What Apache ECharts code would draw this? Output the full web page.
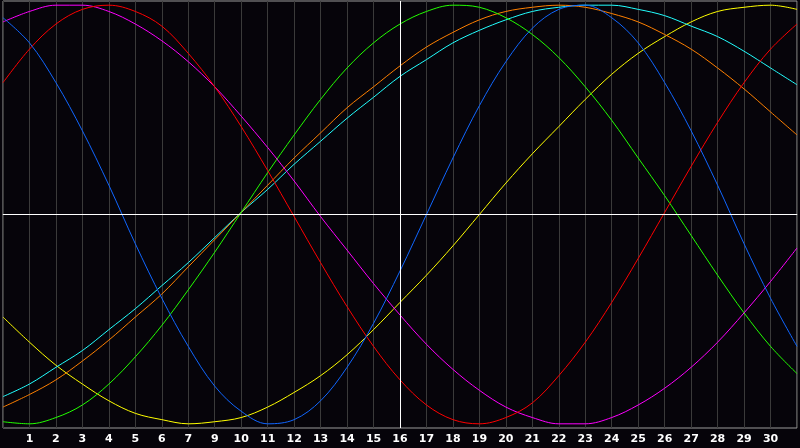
<!DOCTYPE html>
<html>
<head>
<meta charset="utf-8">
<script src="https://cdn.jsdelivr.net/npm/echarts@6/dist/echarts.min.js"></script>
<style>
html,body{margin:0;padding:0;background:#06040a;}
#chart{width:800px;height:448px;}
</style>
</head>
<body>
<div id="chart"></div>
<script>
// day labels under the vertical grid lines (index 0 and 30 are the frame edges)
const dayLabels = ['', '1','2','3','4','5','6','7','9','10','11','12','13','14','15','16','17','18','19','20','21','22','23','24','25','26','27','28','29','30', ''];

// curve values read at each grid line (-100 .. 100)
const redValues     = [63,79,91,98,100,97,90,77,61,42,21,-1,-23,-44,-63,-79,-91,-98,-100,-97,-90,-77,-61,-42,-21,1,23,44,63,79,91];
const magentaValues = [92,97,100,100,97,91,83,73,61,47,32,16,-1,-17,-33,-48,-62,-74,-84,-92,-97,-100,-100,-97,-91,-83,-73,-61,-47,-32,-16];
const blueValues    = [94,82,63,40,14,-14,-40,-63,-82,-94,-100,-98,-89,-73,-52,-27,0,27,52,73,89,98,100,94,82,63,40,14,-14,-40,-63];
const greenValues   = [-99,-100,-97,-91,-81,-68,-53,-36,-18,1,20,38,55,70,82,91,97,100,99,94,86,75,61,45,27,9,-10,-29,-47,-63,-76];
const orangeValues  = [-92,-86,-79,-70,-60,-49,-38,-25,-12,1,14,27,39,51,61,71,80,87,93,97,99,100,99,96,92,86,79,70,60,49,38];
const cyanValues    = [-87,-81,-73,-65,-55,-45,-34,-23,-11,1,12,24,35,46,56,66,74,82,88,93,97,99,100,100,98,95,90,85,78,70,62];
const yellowValues  = [-49,-61,-72,-81,-89,-95,-98,-100,-99,-97,-92,-85,-77,-67,-55,-42,-29,-15,0,15,29,42,55,67,77,85,92,97,99,100,98];

const todayIndex = 15;

const curves = [
  {name:'yellow',  data:yellowValues,  color:'#ffff00'},
  {name:'cyan',    data:cyanValues,    color:'#22ffff'},
  {name:'orange',  data:orangeValues,  color:'#ff8000'},
  {name:'green',   data:greenValues,   color:'#22ff00'},
  {name:'magenta', data:magentaValues, color:'#ff00ff'},
  {name:'red',     data:redValues,     color:'#ff0000'},
  {name:'blue',    data:blueValues,    color:'#1066ff'}
];

const series = curves.map(c => ({
  name: c.name,
  type: 'line',
  data: c.data,
  smooth: 0.35,
  symbol: 'none',
  lineStyle: {color: c.color, width: 1},
  z: 3
}));

series.push({
  name: 'guides',
  type: 'line',
  data: [],
  silent: true,
  z: 2,
  markLine: {
    silent: true,
    symbol: 'none',
    label: {show: false},
    lineStyle: {color: '#ffffff', width: 1, type: 'solid'},
    animation: false,
    data: [{yAxis: 0}, {xAxis: todayIndex}]
  }
});

const chart = echarts.init(document.getElementById('chart'), null, {renderer: 'canvas'});
chart.setOption({
  backgroundColor: '#06040a',
  animation: false,
  grid: {
    left: 1, right: 1, top: 1, bottom: 20,
    show: true,
    borderColor: '#9a9a9a',
    borderWidth: 1,
    backgroundColor: 'transparent'
  },
  xAxis: {
    type: 'category',
    data: dayLabels,
    boundaryGap: false,
    axisLine: {show: true, lineStyle: {color: '#a0a0a0', width: 1}},
    axisTick: {show: false},
    axisLabel: {
      show: true, interval: 0, color: '#ffffff', fontSize: 11, fontWeight: 'bold',
      fontFamily: 'DejaVu Sans', margin: 6
    },
    splitLine: {show: true, interval: 0, lineStyle: {color: '#3a3a3a', width: 1}}
  },
  yAxis: {
    type: 'value',
    min: -102,
    max: 102,
    axisLine: {show: false},
    axisTick: {show: false},
    axisLabel: {show: false},
    splitLine: {show: false}
  },
  series: series
});
</script>
</body>
</html>
